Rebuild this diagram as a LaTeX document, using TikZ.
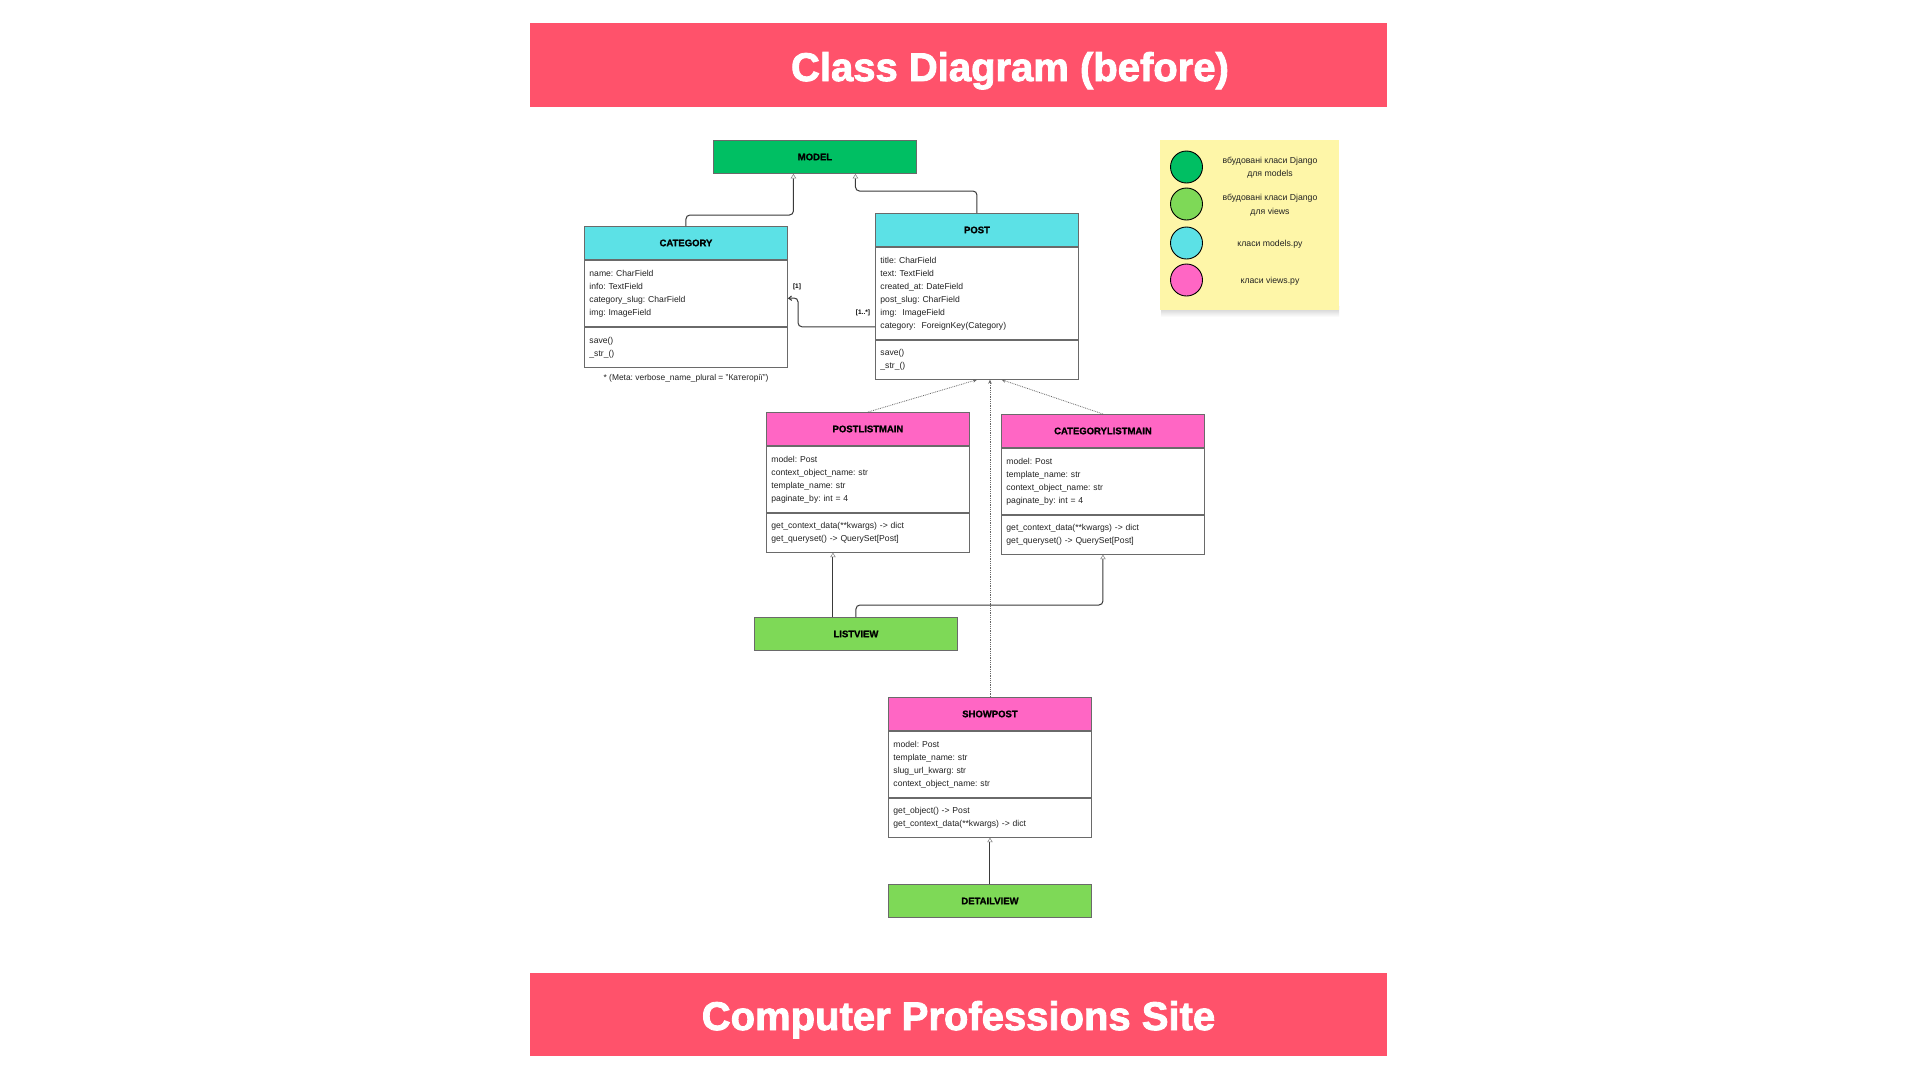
\documentclass[tikz,border=0pt]{standalone}
\usepackage{fontspec}
\setmainfont{Liberation Sans}
\newfontfamily\heavy{Liberation Sans}[BoldFeatures={FakeBold=2.2}]
\newfontfamily\semiheavy{Liberation Sans}[BoldFeatures={FakeBold=1.2}]
\usetikzlibrary{arrows.meta,calc}
\frenchspacing

\definecolor{bannerc}{HTML}{FF526B}
\definecolor{djmodel}{HTML}{00BF63}
\definecolor{djview}{HTML}{7ED957}
\definecolor{modelc}{HTML}{5CE1E6}
\definecolor{viewc}{HTML}{FF66C4}
\definecolor{notec}{HTML}{FEF6A8}
\definecolor{boxline}{HTML}{6A6A6A}
\definecolor{linec}{HTML}{3A3A3A}
\definecolor{txt}{HTML}{222222}

\begin{document}
\begin{tikzpicture}[x=1pt,y=-1pt,
  box/.style={draw=boxline, line width=0.9pt, minimum width=203pt, inner sep=0pt, anchor=north west},
  hdr/.style={box, minimum height=33pt, text=black, font=\semiheavy\bfseries\fontsize{9.5}{11}\selectfont},
  attrs/.style={box, fill=white, text=txt, align=left, text width=193pt, inner xsep=5pt, inner ysep=0pt,
    font=\fontsize{8.6}{13}\selectfont, execute at begin node=\strut, execute at end node=\strut},
  title/.style={text=white, font=\heavy\bfseries\fontsize{40}{44}\selectfont, anchor=base},
  conn/.style={draw=linec, line width=1pt, rounded corners=4pt},
  gen/.style={-{Triangle[length=4.5pt,width=5.5pt,fill=white,color=gray,line width=0.5pt]}},
  dep/.style={draw=black!60, line width=0.8pt, densely dotted, -{Stealth[length=4pt,width=3.5pt]}},
  assoc/.style={-{Straight Barb[length=3pt,width=4.5pt]}},
  mult/.style={text=black, font=\bfseries\fontsize{6.5}{7}\selectfont, inner sep=0pt},
  legdot/.style={circle, draw=black, line width=0.9pt, minimum size=32pt, inner sep=0pt},
  legtxt/.style={text=txt, align=center, font=\fontsize{8.7}{13.6}\selectfont, inner sep=0pt}
]
\useasboundingbox[fill=white] (0,0) rectangle (1920,1080);

% banners
\fill[bannerc] (530,23) rectangle (1387,107);
\node[title] (toptitle) at (1010,81) {Class Diagram (before)};
\fill[bannerc] (530,973) rectangle (1387,1056);
\node[title] (bottomtitle) at (958.5,1030) {Computer Professions Site};

% Django base classes
\node[hdr, fill=djmodel] (model) at (713,140) {MODEL};
\node[hdr, fill=djview] (lv) at (754,617) {LISTVIEW};
\node[hdr, fill=djview] (dv) at (888,884) {DETAILVIEW};

% Category
\node[hdr, fill=modelc] (cat-h) at (584,226) {CATEGORY};
\node[attrs, minimum height=66pt] (cat-a) at (cat-h.south west)
  {name: CharField\\info: TextField\\category\_slug: CharField\\img: ImageField};
\node[attrs, minimum height=40pt] (cat-m) at (cat-a.south west) {save()\\\_str\_()};
\node[text=txt, font=\fontsize{8.4}{10}\selectfont, inner sep=0pt] (meta) at (686,378)
  {* (Meta: verbose\_name\_plural = "Категорії")};

% Post
\node[hdr, fill=modelc] (post-h) at (875,213) {POST};
\node[attrs, minimum height=92pt] (post-a) at (post-h.south west)
  {title: CharField\\text: TextField\\created\_at: DateField\\post\_slug: CharField\\img:\ \ ImageField\\category:\ \ ForeignKey(Category)};
\node[attrs, minimum height=39pt] (post-m) at (post-a.south west) {save()\\\_str\_()};

% PostListMain
\node[hdr, fill=viewc] (pl-h) at (766,412) {POSTLISTMAIN};
\node[attrs, minimum height=66pt] (pl-a) at (pl-h.south west)
  {model: Post\\context\_object\_name: str\\template\_name: str\\paginate\_by: int = 4};
\node[attrs, minimum height=39pt] (pl-m) at (pl-a.south west)
  {get\_context\_data(**kwargs) -> dict\\get\_queryset() -> QuerySet[Post]};

% CategoryListMain
\node[hdr, fill=viewc] (cl-h) at (1001,414) {CATEGORYLISTMAIN};
\node[attrs, minimum height=66pt] (cl-a) at (cl-h.south west)
  {model: Post\\template\_name: str\\context\_object\_name: str\\paginate\_by: int = 4};
\node[attrs, minimum height=39pt] (cl-m) at (cl-a.south west)
  {get\_context\_data(**kwargs) -> dict\\get\_queryset() -> QuerySet[Post]};

% ShowPost
\node[hdr, fill=viewc] (sp-h) at (888,697) {SHOWPOST};
\node[attrs, minimum height=66pt] (sp-a) at (sp-h.south west)
  {model: Post\\template\_name: str\\slug\_url\_kwarg: str\\context\_object\_name: str};
\node[attrs, minimum height=39pt] (sp-m) at (sp-a.south west)
  {get\_object() -> Post\\get\_context\_data(**kwargs) -> dict};

% inheritance from Model
\draw[conn, gen] (cat-h.north) -- ++(0,-11) -| ($(model.south)+(-21.5,0)$);
\draw[conn, gen] (post-h.north) -- ++(0,-22) -| ($(model.south)+(40.5,0)$);

% foreign key Post -> Category
\draw[conn, assoc] ($(post-a.south west)+(0,-13)$) -| ++(-77,-29) -- ($(cat-a.east)+(0,5)$);
\node[mult] (m1) at (797,287) {[1]};
\node[mult] (m2) at (863,313) {[1..*]};

% views using Post
\draw[dep] (pl-h.north) -- (post-m.south);
\draw[dep] (cl-h.north) -- ($(post-m.south)+(24.7,0)$);
\draw[dep] (sp-h.north) -- (sp-h.north |- post-m.south);

% inheritance from ListView / DetailView
\draw[conn, gen] ($(lv.north)+(-23,0)$) coordinate (lvl) -- (lvl |- pl-m.south);
\draw[conn, gen] (lv.north) -- ++(0,-12) -| (cl-m.south);
\draw[conn, gen] (dv.north) -- (sp-m.south);

% legend note
\shade[top color=black!22, bottom color=white] (1161,306) rectangle (1339,317);
\fill[notec] (1160,140) rectangle (1339,310);
\node[legdot, fill=djmodel] (lg1) at (1186.5,167) {};
\node[legdot, fill=djview] (lg2) at (1186.5,204) {};
\node[legdot, fill=modelc] (lg3) at (1186.5,243) {};
\node[legdot, fill=viewc] (lg4) at (1186.5,280) {};
\node[legtxt] (lt1) at (1270,167.5) {вбудовані класи Django\\для models};
\node[legtxt] (lt2) at (1270,205.3) {вбудовані класи Django\\для views};
\node[legtxt] (lt3) at (1270,244) {класи models.py};
\node[legtxt] (lt4) at (1270,281) {класи views.py};
\end{tikzpicture}
\end{document}
